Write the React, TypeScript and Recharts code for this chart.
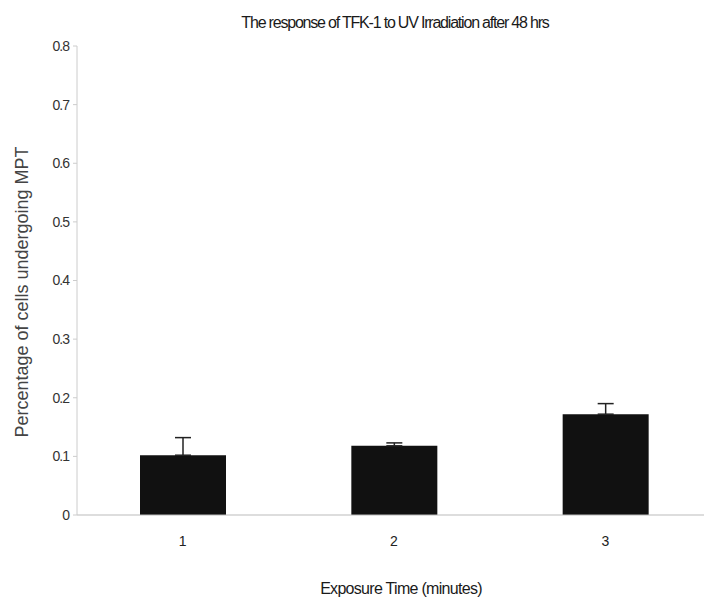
import React from "react";
import { BarChart, Bar, XAxis, YAxis, ErrorBar } from "recharts";

// exposure time in minutes
const exposure = ["1", "2", "3"];
// fraction of cells undergoing MPT
const mptValues = [0.102, 0.118, 0.172];
// upward error (SEM)
const mptErrors = [0.03, 0.005, 0.018];
const yTicks = [0, 0.1, 0.2, 0.3, 0.4, 0.5, 0.6, 0.7, 0.8];

const data = exposure.map((t, i) => ({
  time: t,
  value: mptValues[i],
  err: [0, mptErrors[i]],
}));

const fontFamily = "'Liberation Sans', Arial, sans-serif";

export default function App() {
  return (
    <div
      style={{
        position: "absolute",
        left: 0,
        top: 0,
        width: 704,
        height: 607,
        overflow: "hidden",
        background: "#fff",
        fontFamily,
      }}
    >
      <div
        style={{
          position: "absolute",
          top: 14,
          left: 0,
          width: 790,
          textAlign: "center",
          fontSize: 16,
          letterSpacing: -1.2,
          color: "#1a1a1a",
        }}
      >
        The response of TFK-1 to UV  Irradiation after 48 hrs
      </div>
      <div
        style={{
          position: "absolute",
          top: 580,
          left: 0,
          width: 802,
          textAlign: "center",
          fontSize: 16,
          letterSpacing: -0.7,
          color: "#1a1a1a",
        }}
      >
        Exposure Time (minutes)
      </div>
      <div
        style={{
          position: "absolute",
          left: 22,
          top: 292,
          transform: "translate(-50%, -50%) rotate(-90deg)",
          whiteSpace: "nowrap",
          fontSize: 18,
          color: "#444",
        }}
      >
        Percentage of cells undergoing MPT
      </div>
      <BarChart
        width={720}
        height={607}
        data={data}
        margin={{ top: 46, right: 9, bottom: 62, left: 0 }}
        barSize={86}
      >
        <XAxis
          dataKey="time"
          stroke="#bbb"
          tickLine={false}
          tickMargin={15}
          tick={{ fill: "#222", fontSize: 14, fontFamily }}
        />
        <YAxis
          domain={[0, 0.8]}
          ticks={yTicks}
          width={77}
          stroke="#ccc"
          tickSize={4}
          tickMargin={4}
          tickFormatter={(v: number) => (v === 0 ? "0" : v.toFixed(1))}
          tick={{ fill: "#333", fontSize: 14, fontFamily, letterSpacing: -1 }}
        />
        <Bar dataKey="value" fill="#111" isAnimationActive={false}>
          <ErrorBar
            dataKey="err"
            width={8}
            stroke="#222"
            strokeWidth={1.5}
            direction="y"
          />
        </Bar>
      </BarChart>
    </div>
  );
}
